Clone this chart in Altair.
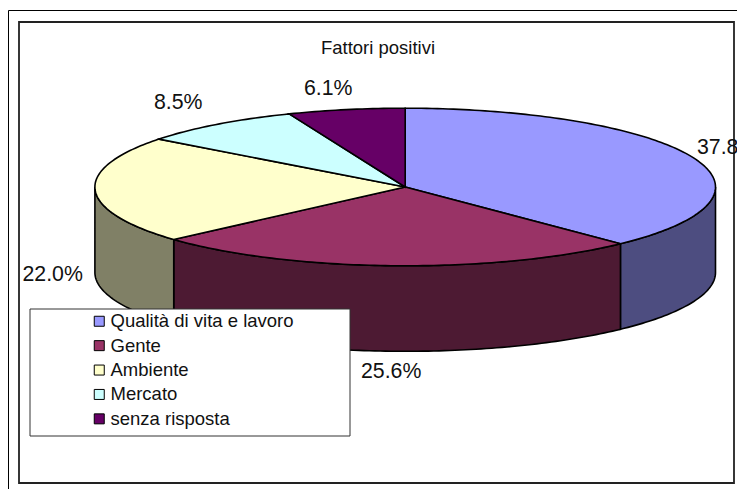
import math
import altair as alt

categories = ["Qualità di vita e lavoro", "Gente", "Ambiente", "Mercato", "senza risposta"]
values = [37.8, 25.6, 22.0, 8.5, 6.1]
top_colors = ["#9999FF", "#993366", "#FFFFCC", "#CCFFFF", "#660066"]
side_colors = ["#4D4D80", "#4D1A33", "#808066", "#666680", "#330033"]
label_spots = [(678, 126), (342, 350), (3.5, 253), (135, 81), (285, 67)]

CX, CY, RX, RY, DEPTH = 386.2, 165, 310.3, 78.8, 85.5
FONT = "Liberation Sans"


def rim(deg, drop=0.0):
    a = math.radians(deg)
    return [CX + RX * math.sin(a), CY - RY * math.cos(a) + drop]


def arc(a0, a1, drop=0.0):
    n = max(2, int(abs(a1 - a0)) + 1)
    return [rim(a0 + (a1 - a0) * i / n, drop) for i in range(n + 1)]


total = sum(values)
tops, sides = [], []
start = 0.0
for name, val, side in zip(categories, values, side_colors):
    end = start + 360.0 * val / total
    ring = [[CX, CY]] + arc(start, end) + [[CX, CY]]
    tops.append({"type": "Feature", "properties": {"name": name},
                 "geometry": {"type": "Polygon", "coordinates": [ring]}})
    s0, s1 = max(start, 90.0), min(end, 270.0)
    if s1 > s0:
        wall = arc(s0, s1) + arc(s1, s0, DEPTH)
        wall.append(wall[0])
        sides.append((side, {"type": "Feature", "properties": {"name": name},
                             "geometry": {"type": "Polygon", "coordinates": [wall]}}))
    start = end

proj = dict(type="identity", scale=1, translate=[0, 0])

side_layers = [
    alt.Chart(alt.Data(values=[feat]))
    .mark_geoshape(fill=col, stroke="black", strokeWidth=1.6)
    .project(**proj)
    for col, feat in sides
]

top_layer = (
    alt.Chart(alt.Data(values=tops))
    .mark_geoshape(stroke="black", strokeWidth=1.6)
    .encode(
        fill=alt.Fill(
            "properties.name:N",
            scale=alt.Scale(domain=categories, range=top_colors),
            legend=alt.Legend(
                orient="none", legendX=71, legendY=290, title=None, padding=0,
                labelFont=FONT, labelFontSize=18.5, labelColor="#111111",
                labelLimit=300, labelOffset=2, rowPadding=5.4, zindex=1,
                symbolType="square", symbolSize=100, symbolStrokeColor="black",
                symbolStrokeWidth=1, symbolOpacity=1,
            ),
        )
    )
    .project(**proj)
)

legend_box = alt.Chart(alt.Data(values=[{"a": 1}])).mark_rect(
    fill="white", stroke="#333333", strokeWidth=1
).encode(x=alt.value(11), x2=alt.value(331), y=alt.value(287), y2=alt.value(414))

outer_left = alt.Chart(alt.Data(values=[{"a": 1}])).mark_rule(color="black", strokeWidth=1).encode(
    x=alt.value(-10.5), y=alt.value(-11.5), y2=alt.value(480))
outer_top = alt.Chart(alt.Data(values=[{"a": 1}])).mark_rule(color="black", strokeWidth=1).encode(
    y=alt.value(-11.5), x=alt.value(-10.5), x2=alt.value(730))

labels = []
for val, (lx, ly) in zip(values, label_spots):
    labels.append(
        alt.Chart(alt.Data(values=[{"t": f"{val:.1f}%"}]))
        .mark_text(font=FONT, fontSize=21.3, color="#111111", align="left", baseline="middle")
        .encode(text="t:N", x=alt.value(lx), y=alt.value(ly))
    )

chart = (
    alt.layer(outer_left, outer_top, *side_layers, top_layer, legend_box, *labels)
    .properties(
        width=715, height=461,
        padding={"left": 11, "top": 14, "right": 3, "bottom": 6},
        autosize=alt.AutoSizeParams(type="none"),
        background="white",
        title=alt.TitleParams(
            "Fattori positivi", font=FONT, fontSize=18.5, fontWeight="normal",
            color="#111111", anchor="middle", offset=-47, dx=1.5,
        ),
    )
    .configure_view(stroke="#222222", strokeWidth=1.8, fill="white")
)

chart.save("out.html", embed_options={"renderer": "svg", "actions": False})
